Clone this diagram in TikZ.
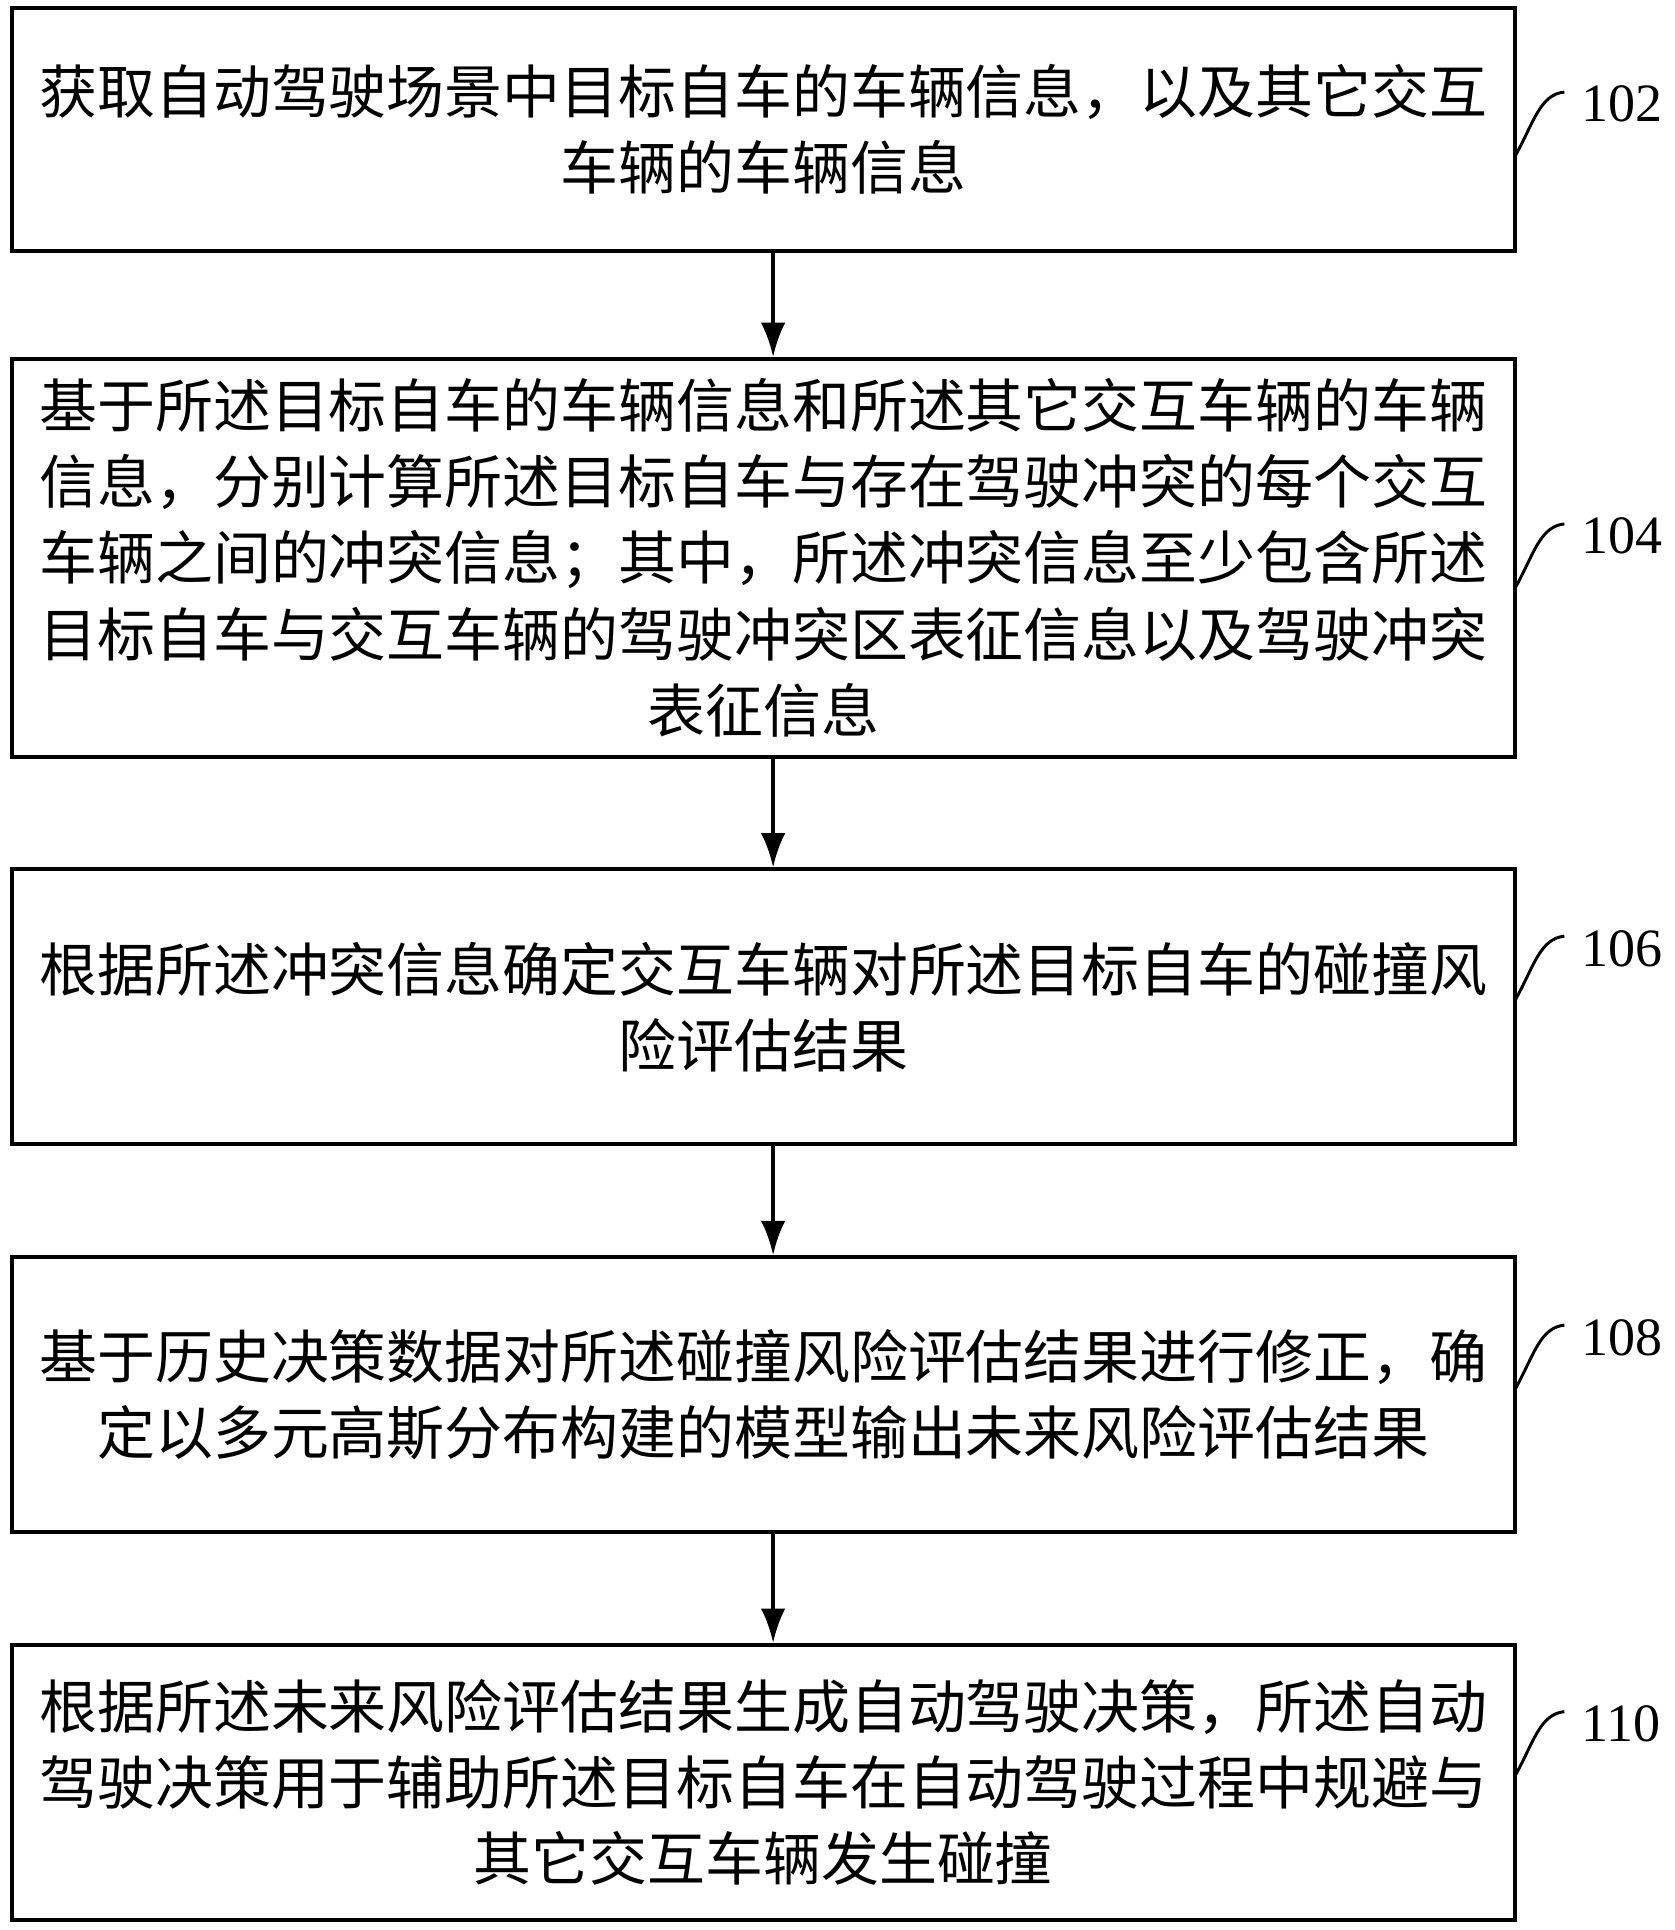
\documentclass[tikz,border=0pt]{standalone}
\usepackage{fontspec}
\setmainfont{Liberation Serif}
\newfontfamily\cjk{Noto Sans CJK SC}
\usetikzlibrary{arrows.meta}
\begin{document}
\begin{tikzpicture}[x=0.5pt,y=-0.5pt,
  box/.style={draw,line width=1.6pt,minimum width=612.5pt,anchor=north west,inner sep=0pt},
  txt/.style={font=\cjk\fontsize{23.6pt}{31pt}\selectfont,align=center},
  arr/.style={-{Latex[length=14pt,width=10pt]},line width=1.6pt},
  lbl/.style={font=\fontsize{22pt}{24pt}\selectfont,anchor=west},
  lead/.style={line width=1.2pt}]
\useasboundingbox (0,0) rectangle (1365,1573);
\node[box,minimum height=99pt] (b1) at (8,5) {};
\node[box,minimum height=162pt] (b2) at (8,291) {};
\node[box,minimum height=112pt] (b3) at (8,707) {};
\node[box,minimum height=112pt] (b4) at (8,1023) {};
\node[box,minimum height=112pt] (b5) at (8,1339) {};
\node[txt] (t1) at (b1.center) {获取自动驾驶场景中目标自车的车辆信息，以及其它交互\\车辆的车辆信息};
\node[txt] (t2) at (b2.center) {基于所述目标自车的车辆信息和所述其它交互车辆的车辆\\信息，分别计算所述目标自车与存在驾驶冲突的每个交互\\车辆之间的冲突信息；其中，所述冲突信息至少包含所述\\目标自车与交互车辆的驾驶冲突区表征信息以及驾驶冲突\\表征信息};
\node[txt] (t3) at (b3.center) {根据所述冲突信息确定交互车辆对所述目标自车的碰撞风\\险评估结果};
\node[txt] (t4) at (b4.center) {基于历史决策数据对所述碰撞风险评估结果进行修正，确\\定以多元高斯分布构建的模型输出未来风险评估结果};
\node[txt] (t5) at (b5.center) {根据所述未来风险评估结果生成自动驾驶决策，所述自动\\驾驶决策用于辅助所述目标自车在自动驾驶过程中规避与\\其它交互车辆发生碰撞};
\draw[arr] ([xshift=4pt]b1.south) -- ([xshift=4pt]b2.north);
\draw[arr] ([xshift=4pt]b2.south) -- ([xshift=4pt]b3.north);
\draw[arr] ([xshift=4pt]b3.south) -- ([xshift=4pt]b4.north);
\draw[arr] ([xshift=4pt]b4.south) -- ([xshift=4pt]b5.north);
\foreach \n/\y/\l in {1/85/102,2/437/104,3/773/106,4/1090/108,5/1405/110}{
  \node[lbl] (l\n) at (1282,\y) {\l};
  \draw[lead] (1235,\y+42) .. controls (1250,\y+15) and (1255,\y-8) .. (1275,\y-10);
}
\end{tikzpicture}
\end{document}
